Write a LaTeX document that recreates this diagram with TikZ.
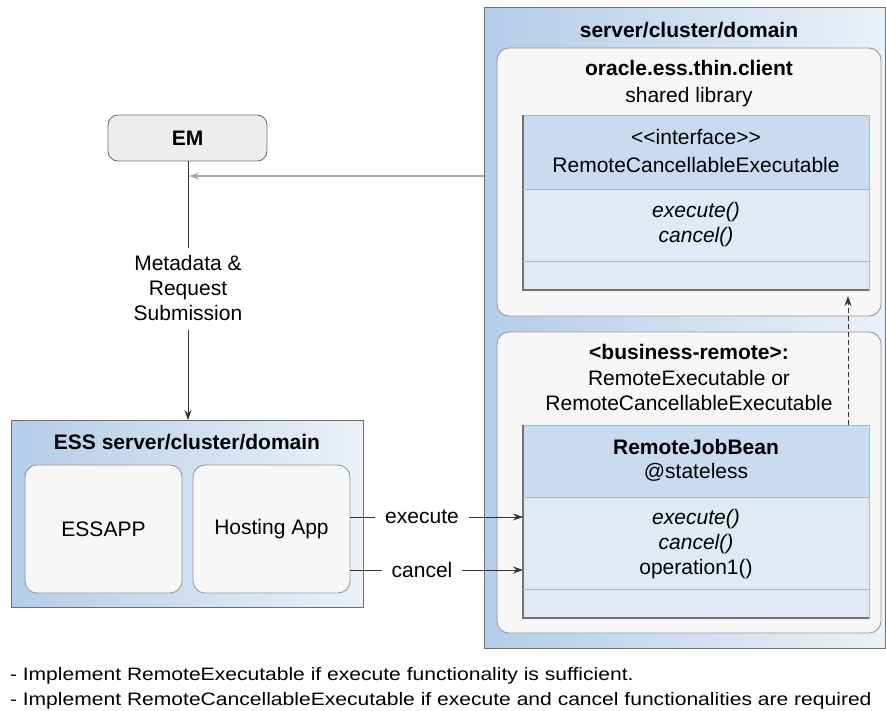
\documentclass[tikz,border=0pt]{standalone}
\usepackage{fontspec}
\setmainfont{Liberation Sans}
\usetikzlibrary{arrows.meta}
\definecolor{contL}{HTML}{B4CDE8}
\definecolor{contR}{HTML}{EAF1F9}
\definecolor{clsHead}{HTML}{C8DBEF}
\definecolor{clsBody}{HTML}{E0EAF5}
\definecolor{clsLine}{HTML}{9DBAD9}
\definecolor{boxFill}{HTML}{F7F7F7}
\definecolor{emFill}{HTML}{EDEDED}
\definecolor{edge}{HTML}{6E6E6E}
\begin{document}
\begin{tikzpicture}[x=1pt,y=-1pt,
  every node/.style={font=\fontsize{21pt}{25pt}\selectfont, inner sep=0pt, outer sep=0pt},
  container/.style={draw=edge, line width=0.9pt, left color=contL, right color=contR, anchor=north west},
  roundbox/.style={draw=black!40, line width=0.9pt, fill=boxFill, rounded corners=12pt, anchor=north west},
  clsbox/.style={draw=clsLine, line width=0.9pt, fill=clsBody, anchor=north west},
  clshead/.style={fill=clsHead, anchor=north west},
  lbl/.style={align=center},
  bold/.style={font=\fontsize{21pt}{25pt}\selectfont\bfseries, align=center},
  ital/.style={font=\fontsize{21pt}{25pt}\selectfont\itshape, align=center},
  arr/.style={-{Stealth[length=10pt,width=7pt]}, line width=0.8pt, draw=black!80},
  note/.style={font=\fontsize{18pt}{22pt}\selectfont, anchor=base west}
]
\useasboundingbox (0,0) rectangle (886,710);

% ---------- right container ----------
\node[container, minimum width=401pt, minimum height=641pt] (srv) at (484,7) {};
\node[bold] (srvt) at (689,30) {server/cluster/domain};

% box 1 : oracle.ess.thin.client
\node[roundbox, minimum width=384pt, minimum height=268pt] (lib) at (497,48) {};
\node[bold] (libt) at (689,68) {oracle.ess.thin.client};
\node[lbl] (libs) at (689,97) {shared library};

\node[clsbox, minimum width=346pt, minimum height=175pt] (cls1) at (523,115) {};
\node[clshead, minimum width=345pt, minimum height=73pt] (cls1h) at (523.5,115.5) {};
\draw[clsLine, line width=0.9pt] (cls1.north west) rectangle (cls1.south east);
\draw[black!55, line width=1.2pt] (cls1.north west) -- (cls1.south west) -- (cls1.south east);
\coordinate (c1a) at (523,189);
\coordinate (c1b) at (523,261);
\draw[clsLine, line width=0.9pt] (c1a) -- (c1a -| cls1.east);
\draw[clsLine, line width=0.9pt] (c1b) -- (c1b -| cls1.east);
\node[lbl] (c1n) at (696,151) {<{}<interface>{}>\\[3pt]RemoteCancellableExecutable};
\node[ital] (c1m) at (696,225) {execute()\\cancel()};

% box 2 : business-remote
\node[roundbox, minimum width=384pt, minimum height=301pt] (bus) at (497,332) {};
\node[bold] (bust) at (689,352) {<business-remote>:};
\node[lbl] (buss) at (689,390) {RemoteExecutable or\\RemoteCancellableExecutable};

\node[clsbox, minimum width=346pt, minimum height=193pt] (cls2) at (523,425) {};
\node[clshead, minimum width=345pt, minimum height=71pt] (cls2h) at (523.5,425.5) {};
\draw[clsLine, line width=0.9pt] (cls2.north west) rectangle (cls2.south east);
\draw[black!55, line width=1.2pt] (cls2.north west) -- (cls2.south west) -- (cls2.south east);
\coordinate (c2a) at (523,497);
\coordinate (c2b) at (523,589);
\draw[clsLine, line width=0.9pt] (c2a) -- (c2a -| cls2.east);
\draw[clsLine, line width=0.9pt] (c2b) -- (c2b -| cls2.east);
\node[bold] (c2n) at (696,447) {RemoteJobBean};
\node[lbl] (c2s) at (696,472) {@stateless};
\node[ital] (c2e) at (696,519) {execute()};
\node[ital] (c2c) at (696,544) {cancel()};
\node[lbl] (c2o) at (696,569) {operation1()};

% dashed realisation arrow
\coordinate (tip) at (848,296);
\draw[arr, dashed, line width=0.6pt, dash pattern=on 5pt off 3pt] (cls2.north -| tip) -- (tip);

% ---------- EM ----------
\node[draw=black!55, line width=0.9pt, fill=emFill, rounded corners=10pt,
      minimum width=159pt, minimum height=46pt, anchor=north west] (emb) at (108,115) {};
\node[bold] (em) at (emb.center) {EM};

% ---------- ESS container ----------
\node[container, minimum width=352pt, minimum height=187pt] (ess) at (11,420) {};
\node[bold] (esst) at (187,442) {ESS server/cluster/domain};
\node[roundbox, minimum width=157pt, minimum height=128pt] (app) at (25,465) {};
\node[lbl] at (app.center) (appt) {ESSAPP};
\node[roundbox, minimum width=157pt, minimum height=128pt] (host) at (193,465) {};
\node[lbl] at (host.center) (hostt) {Hosting App};

% ---------- connectors ----------
\node[lbl] (meta) at (188,288) {Metadata \&\\Request\\Submission};
\draw[line width=0.8pt, black!80] (emb.south -| meta) -- ([yshift=7pt]meta.north);
\draw[arr] ([yshift=-9pt]meta.south) -- (ess.north -| meta);

\coordinate (hit) at (189,176);
\draw[-{Stealth[length=10pt,width=7pt]}, line width=2pt, draw=black!35] (srv.west |- hit) -- (hit);

\node[lbl] (exe) at (422,517) {execute};
\node[lbl] (can) at (422,570) {cancel};
\draw[line width=0.8pt, black!80] (host.east |- exe) -- ([xshift=-10pt]exe.west);
\draw[arr] ([xshift=10pt]exe.east) -- (cls2.west |- exe);
\draw[line width=0.8pt, black!80] (host.east |- can) -- ([xshift=-10pt]can.west);
\draw[arr] ([xshift=10pt]can.east) -- (cls2.west |- can);

% ---------- footnotes ----------
\node[note] (n1) at (10,680) {\scalebox{1.17}[1]{- Implement RemoteExecutable if execute functionality is sufficient.}};
\node[note] (n2) at (10,705) {\scalebox{1.17}[1]{- Implement RemoteCancellableExecutable if execute and cancel functionalities are required}};
\end{tikzpicture}
\end{document}
